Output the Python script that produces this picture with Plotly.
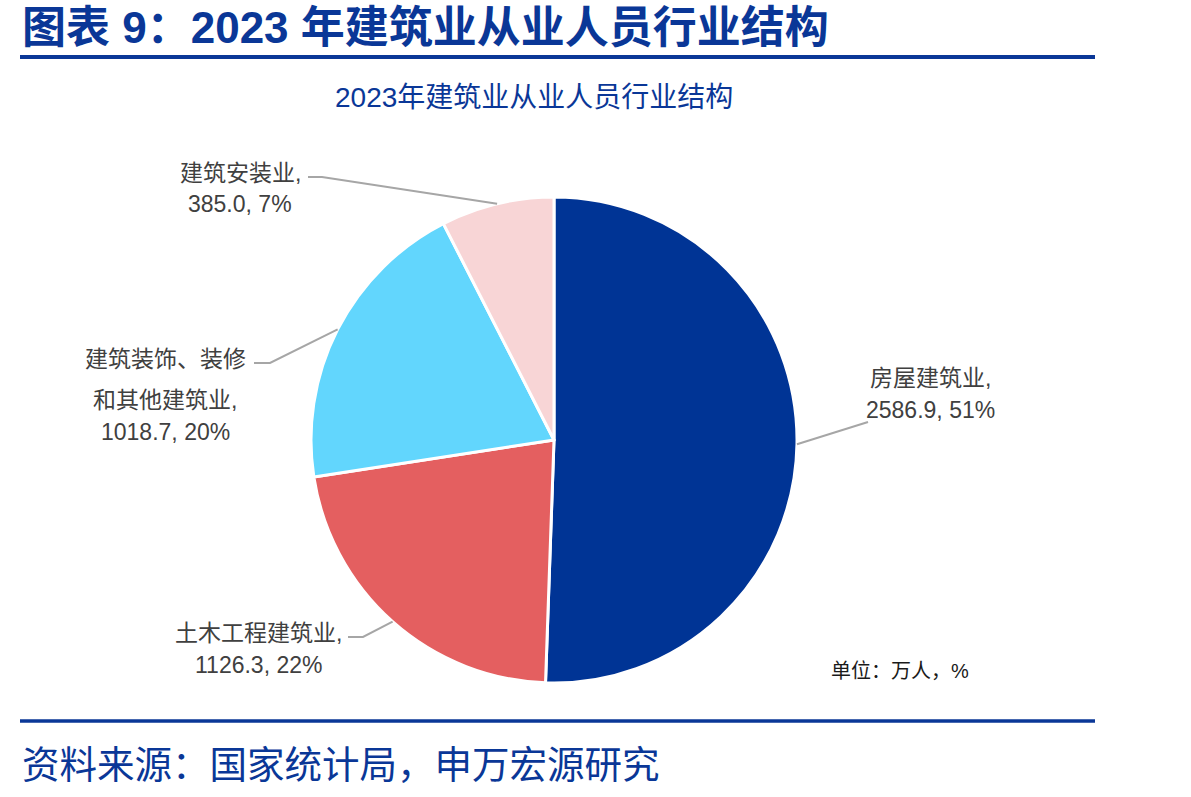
import math
import plotly.graph_objects as go

# ---------------- data ----------------
categories = ["房屋建筑业", "土木工程建筑业", "建筑装饰、装修和其他建筑业", "建筑安装业"]
label_lines = [["房屋建筑业,"], ["土木工程建筑业,"], ["建筑装饰、装修", "和其他建筑业,"], ["建筑安装业,"]]
values = [2586.9, 1126.3, 1018.7, 385.0]
percents = [51, 22, 20, 7]
colors = ["#003495", "#E45F60", "#62D6FD", "#F8D5D6"]

title_text = "图表 9：2023 年建筑业从业人员行业结构"
subtitle_text = "2023年建筑业从业人员行业结构"
unit_text = "单位：万人，%"
source_text = "资料来源：国家统计局，申万宏源研究"

W, H = 1191, 797
CX, CY, R = 554, 440, 243

BLUE = "#0A3797"
LABEL = "#404040"
FONT = "Liberation Sans, Noto Sans CJK SC, sans-serif"


def px(x):
    return x / W


def py(y):
    return 1 - y / H


fig = go.Figure()
fig.add_trace(go.Pie(
    labels=categories,
    values=values,
    sort=False,
    direction="clockwise",
    rotation=0,
    marker=dict(colors=colors, line=dict(color="white", width=3)),
    textinfo="none",
    hoverinfo="label+value+percent",
    showlegend=False,
    domain=dict(x=[px(CX - R), px(CX + R)], y=[py(CY + R), py(CY - R)]),
))

# label placement (layout): elbow point, end of horizontal segment, text center, line y positions
label_layout = [
    dict(elbow=(868, 422), end=(868, 422), tx=930, ty=[378, 410]),
    dict(elbow=(363, 637), end=(348, 637), tx=258, ty=[633, 665]),
    dict(elbow=(270, 363), end=(254, 363), tx=165, ty=[359, 400, 432]),
    dict(elbow=(322, 177), end=(308, 177), tx=240, ty=[173, 204]),
]

total = sum(values)
cum = 0.0
shapes = []
annotations = []
for i, v in enumerate(values):
    mid = (cum + v / 2) / total * 2 * math.pi
    cum += v
    sx = CX + R * math.sin(mid)
    sy = CY - R * math.cos(mid)
    lay = label_layout[i]
    ex, ey = lay["elbow"]
    fx, fy = lay["end"]
    path = f"M {px(sx)},{py(sy)} L {px(ex)},{py(ey)} L {px(fx)},{py(fy)}"
    shapes.append(dict(type="path", xref="paper", yref="paper", path=path,
                       line=dict(color="#A6A6A6", width=2)))
    lines = label_lines[i] + [f"{v:.1f}, {percents[i]}%"]
    for txt, ty in zip(lines, lay["ty"]):
        annotations.append(dict(x=px(lay["tx"]), y=py(ty), xref="paper", yref="paper",
                                text=txt, showarrow=False, xanchor="center", yanchor="middle",
                                font=dict(family=FONT, size=23, color=LABEL)))

# header / footer rules
shapes.append(dict(type="line", xref="paper", yref="paper", x0=px(20), x1=px(1095),
                   y0=py(57), y1=py(57), line=dict(color=BLUE, width=4)))
shapes.append(dict(type="line", xref="paper", yref="paper", x0=px(20), x1=px(1095),
                   y0=py(721), y1=py(721), line=dict(color=BLUE, width=3.5)))

annotations += [
    dict(x=px(20), y=py(28), xref="paper", yref="paper", text=f"<b>{title_text}</b>",
         showarrow=False, xanchor="left", yanchor="middle",
         font=dict(family=FONT, size=44, color=BLUE)),
    dict(x=px(534), y=py(98), xref="paper", yref="paper", text=subtitle_text,
         showarrow=False, xanchor="center", yanchor="middle",
         font=dict(family=FONT, size=28, color=BLUE)),
    dict(x=px(829), y=py(671), xref="paper", yref="paper", text=unit_text,
         showarrow=False, xanchor="left", yanchor="middle",
         font=dict(family=FONT, size=20, color="#1A1A1A")),
    dict(x=px(20), y=py(765), xref="paper", yref="paper", text=source_text,
         showarrow=False, xanchor="left", yanchor="middle",
         font=dict(family=FONT, size=37.5, color=BLUE)),
]

fig.update_layout(
    width=W, height=H,
    margin=dict(l=0, r=0, t=0, b=0),
    paper_bgcolor="white", plot_bgcolor="white",
    shapes=shapes, annotations=annotations,
)

fig.write_html("out.html")
